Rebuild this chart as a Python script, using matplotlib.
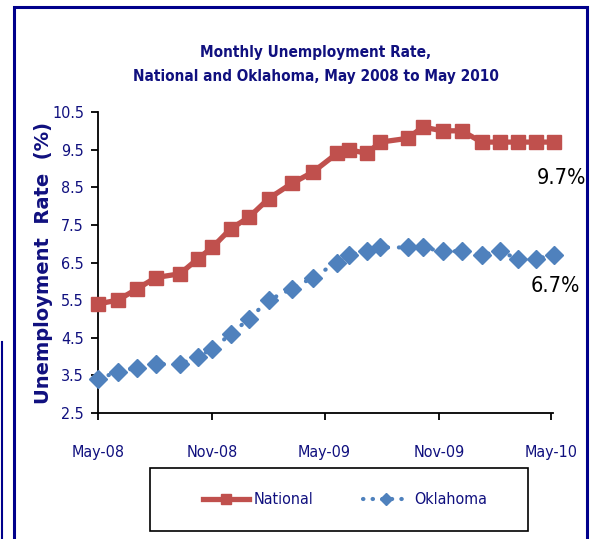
import matplotlib
matplotlib.use('Agg')
import matplotlib.pyplot as plt
import matplotlib.dates as mdates
from matplotlib.patches import Rectangle
from matplotlib.lines import Line2D
from matplotlib import font_manager
from matplotlib.font_manager import FontProperties
import os
import pandas as pd

# Fechas de cada punto (leidas de la imagen, no son exactamente mensuales)
fechas = ['2008-05-01', '2008-06-02', '2008-07-03', '2008-08-02', '2008-09-10',
          '2008-10-09', '2008-11-01', '2008-12-01', '2008-12-30', '2009-01-31',
          '2009-03-09', '2009-04-12', '2009-05-21', '2009-06-09', '2009-07-08',
          '2009-07-30', '2009-09-12', '2009-10-06', '2009-11-07', '2009-12-08',
          '2010-01-09', '2010-02-07', '2010-03-08', '2010-04-07', '2010-05-06']

national = [5.4, 5.5, 5.8, 6.1, 6.2, 6.6, 6.9, 7.4, 7.7, 8.2, 8.6, 8.9, 9.4,
            9.5, 9.4, 9.7, 9.8, 10.1, 10.0, 10.0, 9.7, 9.7, 9.7, 9.7, 9.7]
oklahoma = [3.4, 3.6, 3.7, 3.8, 3.8, 4.0, 4.2, 4.6, 5.0, 5.5, 5.8, 6.1, 6.5,
            6.7, 6.8, 6.9, 6.9, 6.9, 6.8, 6.8, 6.7, 6.8, 6.6, 6.6, 6.7]

ticks_x = ['2008-05-01', '2008-11-01', '2009-05-01', '2009-11-01', '2010-05-01']
ticks_y = [2.5, 3.5, 4.5, 5.5, 6.5, 7.5, 8.5, 9.5, 10.5]

titulo = 'Monthly Unemployment Rate,\nNational and Oklahoma, May 2008 to May 2010'

rojo = '#C0504D'
azul = '#4F81BD'
navy = '#10107F'


# Buscar una fuente estrecha instalada (tipo Arial Narrow)
def buscar_fuente(archivos, negrita, size):
    for f in font_manager.fontManager.ttflist:
        if os.path.basename(f.fname) in archivos:
            return FontProperties(fname=f.fname, size=size)
    return FontProperties(family='Liberation Sans', size=size,
                          weight='bold' if negrita else 'normal')


def fuente(size, negrita=False):
    if negrita:
        archivos = ['LiberationSansNarrow-Bold.ttf', 'DejaVuSansCondensed-Bold.ttf']
    else:
        archivos = ['LiberationSansNarrow-Regular.ttf', 'DejaVuSansCondensed.ttf']
    return buscar_fuente(archivos, negrita, size)


x = pd.to_datetime(fechas)

fig = plt.figure(figsize=(5.9, 5.39), dpi=100)
ax = fig.add_axes([98 / 590, 1 - 413 / 539, (553 - 98) / 590, (413 - 112) / 539])

ax.plot(x, national, color=rojo, linewidth=3.8, marker='s', markersize=10,
        clip_on=False, zorder=3, label='National')
ax.plot(x, oklahoma, color=azul, linewidth=3, linestyle=(0, (0.1, 2.6)),
        dash_capstyle='round', marker='D', markersize=9.5, clip_on=False,
        zorder=3, label='Oklahoma')

ax.set_xlim(pd.Timestamp('2008-05-01'), pd.Timestamp('2010-05-04'))
ax.set_ylim(2.5, 10.5)
ax.set_xticks(pd.to_datetime(ticks_x))
ax.xaxis.set_major_formatter(mdates.DateFormatter('%b-%y'))
ax.set_yticks(ticks_y)
ax.set_yticklabels(['{:.1f}'.format(v) for v in ticks_y])

for s in ['top', 'right']:
    ax.spines[s].set_visible(False)
for s in ['left', 'bottom']:
    ax.spines[s].set_linewidth(1.3)
ax.tick_params(direction='out', length=5, width=1.3, colors='black',
               labelcolor=navy)
ax.tick_params(axis='x', pad=18)
ax.tick_params(axis='y', pad=5)
for t in ax.get_xticklabels() + ax.get_yticklabels():
    t.set_fontproperties(fuente(11.5))

ax.set_ylabel('Unemployment  Rate  (%)', color=navy, fontsize=14,
              fontweight='bold', family='DejaVu Sans')
ax.yaxis.set_label_coords(-0.099, 0.5)

# Etiquetas del ultimo valor
ax.annotate('{:.1f}%'.format(national[-1]), (x[-1], national[-1]),
            xytext=(5, -30), textcoords='offset points', ha='center',
            fontproperties=fuente(15.5), annotation_clip=False)
ax.annotate('{:.1f}%'.format(oklahoma[-1]), (x[-1], oklahoma[-1]),
            xytext=(1, -27), textcoords='offset points', ha='center',
            fontproperties=fuente(15.5), annotation_clip=False)

fig.text(316 / 590, 1 - 64 / 539, titulo, ha='center', va='center',
         color=navy, fontproperties=fuente(11, negrita=True), linespacing=1.75)

# Leyenda con caja propia
leg_handles = [Line2D([], [], color=rojo, linewidth=3.8, marker='s', markersize=7),
               Line2D([], [], color=azul, linewidth=3, linestyle=(0, (0.1, 2.2)),
                      dash_capstyle='round', marker='D', markersize=6)]
leg = fig.legend(leg_handles, ['National', 'Oklahoma'], loc='center',
                 bbox_to_anchor=(345 / 590, 1 - 500 / 539), ncol=2, frameon=False,
                 handlelength=2.9, columnspacing=3.1, handletextpad=0.3,
                 prop=fuente(11.5))
for t in leg.get_texts():
    t.set_color(navy)

fig.patches.append(Rectangle((150 / 590, 1 - 531 / 539), (528 - 150) / 590, (531 - 468) / 539,
                             transform=fig.transFigure, fill=False,
                             edgecolor='black', linewidth=1.2))
# Borde azul de la figura
fig.patches.append(Rectangle((14 / 590, -0.05), (587 - 14) / 590, 0.05 + 1 - 7 / 539,
                             transform=fig.transFigure, fill=False,
                             edgecolor='#00008B', linewidth=2.2))
fig.add_artist(Line2D([1.5 / 590, 1.5 / 590], [0, 1 - 342 / 539],
                      transform=fig.transFigure, color='#00008B', linewidth=1.5))

fig.savefig('out.png', dpi=100)
